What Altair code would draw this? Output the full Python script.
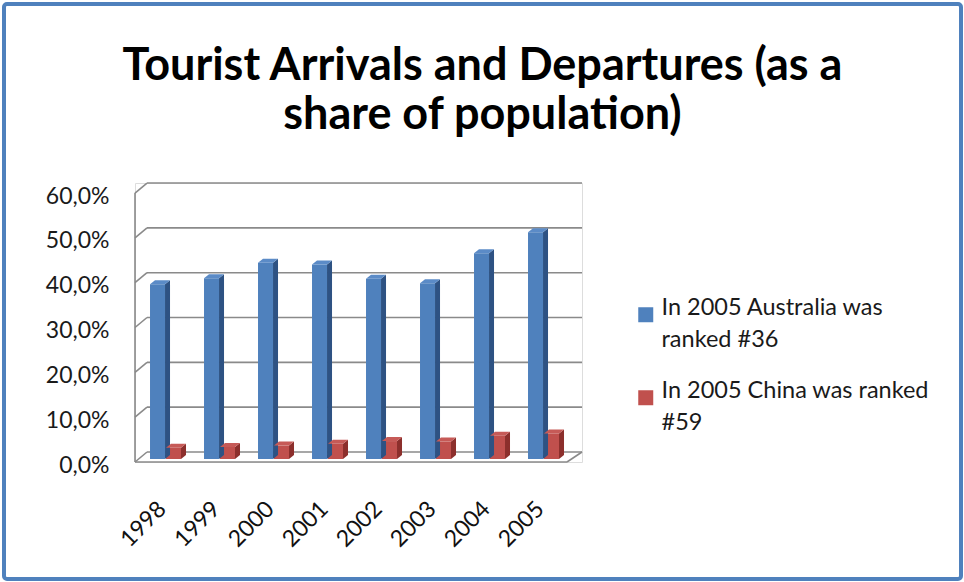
import altair as alt
import pandas as pd

# ---------------- data ----------------
years = ["1998", "1999", "2000", "2001", "2002", "2003", "2004", "2005"]
series = ["In 2005 Australia was ranked #36", "In 2005 China was ranked #59"]
australia = [39.0, 40.3, 43.8, 43.4, 40.2, 39.2, 45.9, 50.6]
china = [2.5, 2.7, 3.0, 3.4, 4.0, 3.9, 5.2, 5.7]
y_ticks = [0, 10, 20, 30, 40, 50, 60]
title_lines = ["Tourist Arrivals and Departures (as a", "share of population)"]
legend_lines = {
    series[0]: ["In 2005 Australia was", "ranked #36"],
    series[1]: ["In 2005 China was ranked", "#59"],
}

# ---------------- style / geometry constants ----------------
PLOT_W, PLOT_H = 447, 279
PAD_L, PAD_T = 135, 183
UNIT = 54.0            # px per category
PCT = 4.483            # px per percentage point
DX = 5 / UNIT          # bar depth (x)
DY = 4 / PCT           # bar depth (y)
WX = 12 / UNIT         # wall depth (x)
WY = 10 / PCT          # wall depth (y)
BASE = 3 / PCT         # bars stand slightly back on the floor
X_MAX = PLOT_W / UNIT
Y_MAX = PLOT_H / PCT
N = len(years)

slots = {series[0]: (0.278, 0.556), series[1]: (0.574, 0.852)}
front_col = {series[0]: "#4F81BD", series[1]: "#C0504D"}
side_col = {series[0]: "#2E5283", series[1]: "#8C2F2C"}
top_col = {series[0]: "#5B8BC7", series[1]: "#C65A57"}
GRID = "#8A8A8A"
FONT = "Lato"

values = {series[0]: australia, series[1]: china}

front_rows, side_rows, top_rows = [], [], []
for s in series:
    xl, xr = slots[s]
    for i, v in enumerate(values[s]):
        bid = f"{s}-{i}"
        front_rows.append(dict(series=s, year=years[i], value=v,
                               x=i + xl, x2=i + xr, y=BASE, y2=BASE + v))
        side_rows += [
            dict(bar=bid, col=side_col[s], x=i + xr, y=BASE, y2=BASE + v),
            dict(bar=bid, col=side_col[s], x=i + xr + DX, y=BASE + DY, y2=BASE + v + DY),
        ]
        top = BASE + v
        top_rows += [
            dict(bar=bid, col=top_col[s], x=i + xl, y=top, y2=top),
            dict(bar=bid, col=top_col[s], x=i + xl + DX, y=top, y2=top + DY),
            dict(bar=bid, col=top_col[s], x=i + xr, y=top, y2=top + DY),
            dict(bar=bid, col=top_col[s], x=i + xr + DX, y=top + DY, y2=top + DY),
        ]

front_df = pd.DataFrame(front_rows)
side_df = pd.DataFrame(side_rows)
top_df = pd.DataFrame(top_rows)

# walls & floor lines derived from tick values
wall_rows = []
for g in y_ticks:
    wall_rows.append(dict(x=WX, x2=X_MAX, y=g + WY, y2=g + WY))      # back wall grid
    wall_rows.append(dict(x=0, x2=WX, y=g, y2=g + WY))               # side wall diagonal
wall_rows.append(dict(x=0, x2=0, y=0, y2=y_ticks[-1]))                 # left edge
wall_rows.append(dict(x=0, x2=N, y=0, y2=0))                           # floor front
wall_rows.append(dict(x=N, x2=X_MAX, y=0, y2=WY))                      # floor right
wall_df = pd.DataFrame(wall_rows)

xscale = alt.Scale(domain=[0, X_MAX], nice=False, zero=False)
yscale = alt.Scale(domain=[0, Y_MAX], nice=False, zero=False)

year_arr = "[" + ",".join(f"'{y}'" for y in years) + "]"
x_axis = alt.Axis(values=[i + 0.5 for i in range(N)],
                  labelExpr=f"{year_arr}[round(datum.value - 0.5)]",
                  labelAngle=-45, labelAlign="right", labelBaseline="middle",
                  labelPadding=43, labelFont=FONT, labelFontSize=23,
                  labelColor="#111111", domain=False, ticks=False, grid=False,
                  title=None)
y_axis = alt.Axis(values=y_ticks,
                  labelExpr="replace(format(datum.value, '.1f'), '.', ',') + '%'",
                  labelPadding=26, labelOffset=3, labelFont=FONT, labelFontSize=23,
                  labelColor="#1a1a1a", domain=False, ticks=False, grid=False,
                  title=None)

walls = alt.Chart(wall_df).mark_rule(color=GRID, strokeWidth=1.6).encode(
    x=alt.X("x:Q", scale=xscale, axis=x_axis),
    x2="x2:Q",
    y=alt.Y("y:Q", scale=yscale, axis=y_axis),
    y2="y2:Q",
)

legend_map = " : ".join(
    [f"datum.label == '{series[0]}' ? {legend_lines[series[0]]}", f"{legend_lines[series[1]]}"]
)

front = alt.Chart(front_df).mark_rect().encode(
    x=alt.X("x:Q", scale=xscale),
    x2="x2:Q",
    y=alt.Y("y:Q", scale=yscale),
    y2="y2:Q",
    color=alt.Color("series:N",
                    scale=alt.Scale(domain=series, range=[front_col[s] for s in series]),
                    legend=alt.Legend(title=None, orient="none", legendX=499, legendY=120,
                                      symbolType="square", symbolSize=225,
                                      symbolStrokeWidth=0, labelFont=FONT,
                                      labelFontSize=23.5, labelColor="#1a1a1a",
                                      labelBaseline="alphabetic", labelOffset=4,
                                      labelLimit=400, rowPadding=26,
                                      labelExpr=legend_map)),
)

sides = alt.Chart(side_df).mark_area().encode(
    x=alt.X("x:Q", scale=xscale),
    y=alt.Y("y:Q", scale=yscale),
    y2="y2:Q",
    detail="bar:N",
    color=alt.Color("col:N", scale=None),
)

tops = alt.Chart(top_df).mark_area().encode(
    x=alt.X("x:Q", scale=xscale),
    y=alt.Y("y:Q", scale=yscale),
    y2="y2:Q",
    detail="bar:N",
    color=alt.Color("col:N", scale=None),
)

frame = alt.Chart(pd.DataFrame({"k": [0]})).mark_rect(
    fill=None, stroke="#4F81BD", strokeWidth=4, cornerRadius=3
).encode(
    x=alt.value(4 - PAD_L), x2=alt.value(961 - PAD_L),
    y=alt.value(4 - PAD_T), y2=alt.value(579 - PAD_T),
)

chart = alt.layer(walls, front, sides, tops, frame).properties(
    width=PLOT_W, height=PLOT_H,
    autosize=alt.AutoSizeParams(type="none"),
    padding={"left": PAD_L, "top": PAD_T, "right": 964 - PAD_L - PLOT_W,
             "bottom": 582 - PAD_T - PLOT_H},
    title=alt.TitleParams(title_lines, font=FONT, fontSize=45, fontWeight="bold",
                          color="#000000", anchor="middle", dx=124, lineHeight=49,
                          offset=0, dy=136),
).configure_view(stroke=None).configure(
    background="white",
    style={"guide-label": {"lineHeight": 32}},
)

chart.save("out.html", embed_options={"renderer": "svg", "actions": False})
